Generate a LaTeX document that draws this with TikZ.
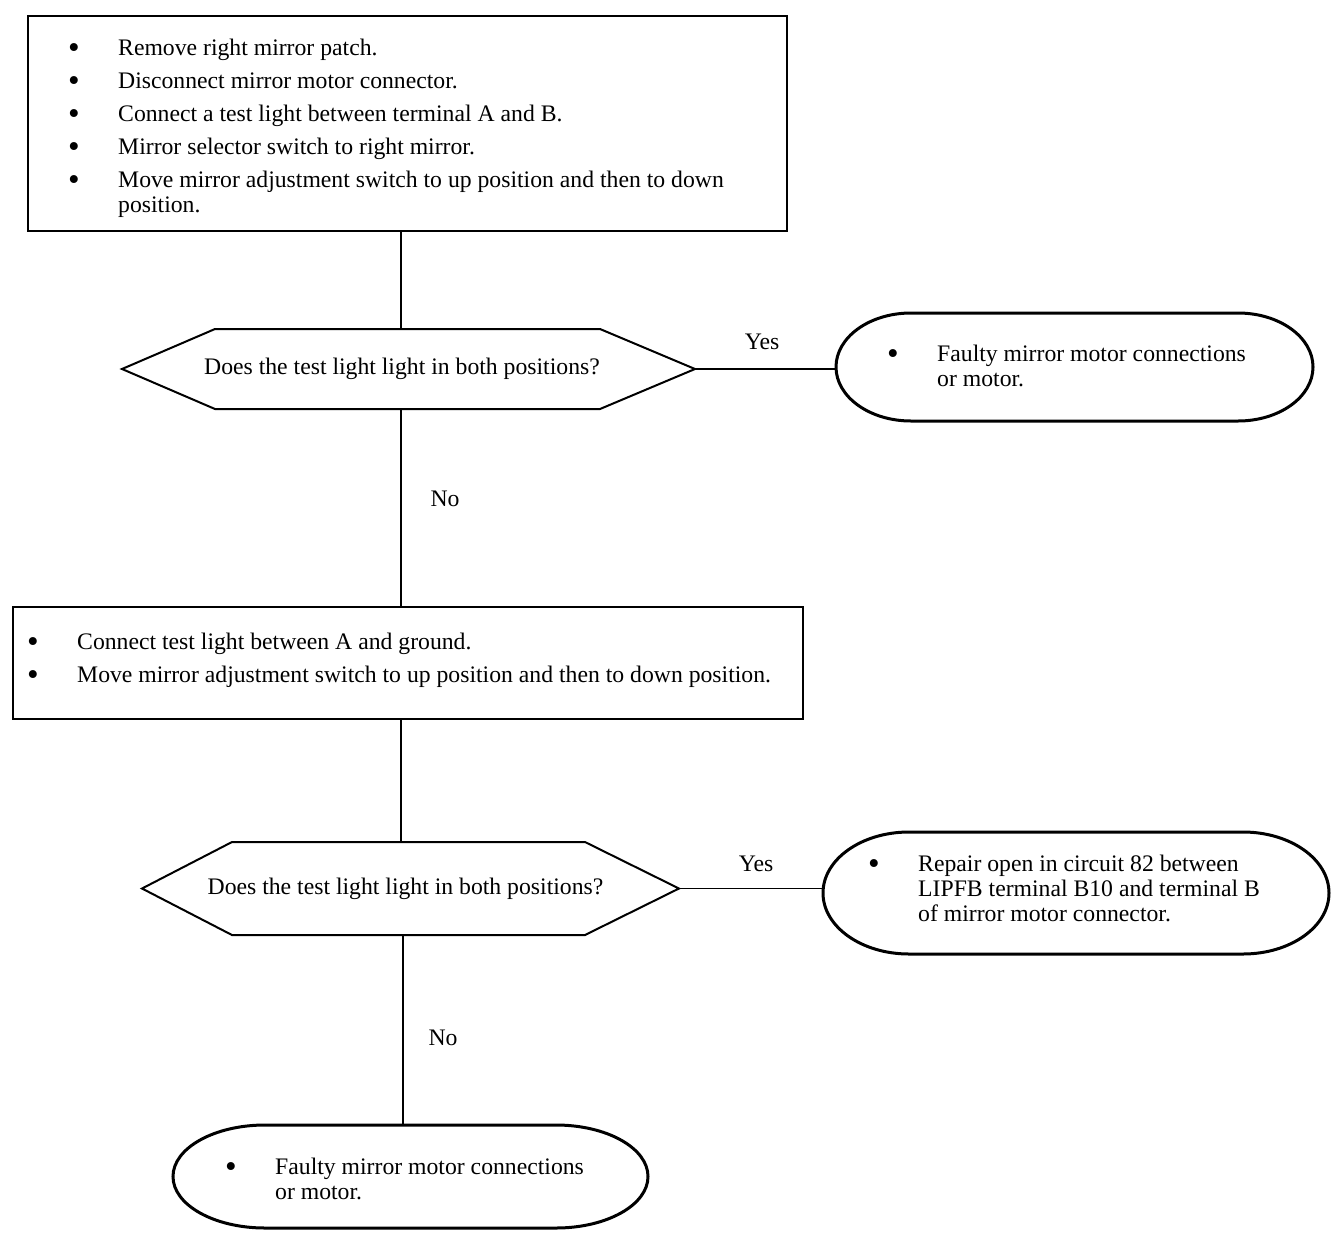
\documentclass[tikz,border=0pt]{standalone}
\usepackage{fontspec}
\setmainfont{Liberation Serif}
\newcommand{\bu}{\makebox[50pt][l]{\raisebox{-3.5pt}{\scalebox{1.4}{\textbullet}}}}
\newcommand{\ind}{\hspace*{50pt}}
\newcommand{\drawoval}[3]{\draw[ovalline] ([xshift=#2]#1.north west) -- ([xshift=-#2]#1.north east) arc[start angle=90,end angle=-90,x radius=#2,y radius=#3] -- ([xshift=#2]#1.south west) arc[start angle=270,end angle=90,x radius=#2,y radius=#3] -- cycle;}
\begin{document}
\begin{tikzpicture}[x=1pt,y=1pt,
  every node/.style={font=\fontsize{23.7}{25}\selectfont},
  boxshape/.style={draw, rectangle, line width=2pt, inner sep=0pt, outer sep=0pt},
  hexshape/.style={rectangle, inner sep=0pt, outer sep=0pt},
  ovalshape/.style={rectangle, inner sep=0pt, outer sep=0pt},
  hexline/.style={draw, line width=2pt, line join=miter},
  ovalline/.style={draw, line width=3pt},
  conn/.style={draw, line width=1.5pt},
  txt/.style={anchor=base west, inner sep=0pt, align=left},
  lbl/.style={anchor=base, inner sep=0pt}]
\useasboundingbox (0,0) rectangle (1344,-1248);

% shapes
\node[boxshape, minimum width=759, minimum height=215] (b1) at (407.5,-123.5) {};
\node[hexshape, minimum width=573, minimum height=80] (d1) at (408.5,-369) {\hspace*{-13pt}Does the test light light in both positions?};
\node[ovalshape, minimum width=477, minimum height=108] (o1) at (1074.5,-367) {};
\node[boxshape, minimum width=790, minimum height=112] (b2) at (408,-663) {};
\node[hexshape, minimum width=537, minimum height=93] (d2) at (410.5,-888.5) {\hspace*{-10pt}Does the test light light in both positions?};
\node[ovalshape, minimum width=506, minimum height=122] (o2) at (1076,-893) {};
\node[ovalshape, minimum width=475, minimum height=103] (o3) at (410.5,-1176.5) {};

\draw[hexline] (d1.west) -- ([xshift=93]d1.north west) -- ([xshift=-95]d1.north east) -- (d1.east) -- ([xshift=-95]d1.south east) -- ([xshift=93]d1.south west) -- cycle;
\draw[hexline] (d2.west) -- ([xshift=90]d2.north west) -- ([xshift=-94]d2.north east) -- (d2.east) -- ([xshift=-94]d2.south east) -- ([xshift=90]d2.south west) -- cycle;
\drawoval{o1}{75}{54}
\drawoval{o2}{86}{61}
\drawoval{o3}{92}{51.5}

% texts (base anchor = baseline of the last line)
\node[txt] (t11) at (68,-55) {\bu Remove right mirror patch.};
\node[txt] (t12) at (68,-88) {\bu Disconnect mirror motor connector.};
\node[txt] (t13) at (68,-121) {\bu Connect a test light between terminal A and B.};
\node[txt] (t14) at (68,-154) {\bu Mirror selector switch to right mirror.};
\node[txt] (t15) at (68,-212) {\bu Move mirror adjustment switch to up position and then to down\\\ind position.};
\node[txt] (t21) at (27,-649) {\bu Connect test light between A and ground.};
\node[txt] (t22) at (27,-682) {\bu Move mirror adjustment switch to up position and then to down position.};
\node[txt] (to1) at (887,-386) {\bu Faulty mirror motor connections\\\ind or motor.};
\node[txt] (to2) at (868,-921) {\bu Repair open in circuit 82 between\\\ind LIPFB terminal B10 and terminal B\\\ind of mirror motor connector.};
\node[txt] (to3) at (225,-1199) {\bu Faulty mirror motor connections\\\ind or motor.};

% connectors
\draw[conn] ([xshift=-6.5]b1.south) -- ([xshift=-7.5]d1.north);
\draw[conn] (d1.east) -- (d1.east -| o1.west);
\draw[conn] ([xshift=-7.5]d1.south) -- ([xshift=-7]b2.north);
\draw[conn] ([xshift=-7]b2.south) -- ([xshift=-9.5]d2.north);
\draw[conn] (d2.east) -- (d2.east -| o2.west);
\draw[conn] ([xshift=-7.5]d2.south) -- ([xshift=-7.5]o3.north);

% labels
\node[lbl] (y1) at (762,-349) {Yes};
\node[lbl] (n1) at (445,-506) {No};
\node[lbl] (y2) at (756,-871) {Yes};
\node[lbl] (n2) at (443,-1045) {No};
\end{tikzpicture}
\end{document}
